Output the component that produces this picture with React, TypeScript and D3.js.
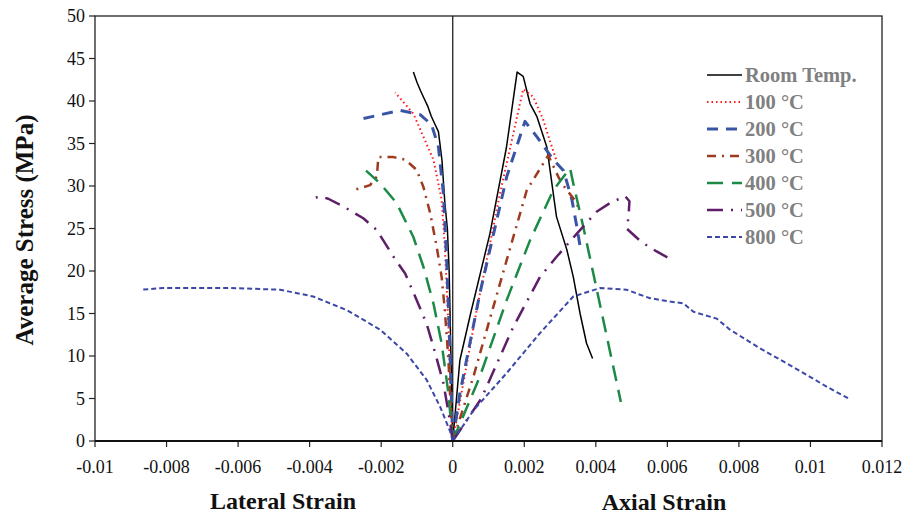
import React from "react";
import * as d3 from "d3";

type P = [number, number];

const xTicks = [-0.01, -0.008, -0.006, -0.004, -0.002, 0, 0.002, 0.004, 0.006, 0.008, 0.01, 0.012];
const yTicks = [0, 5, 10, 15, 20, 25, 30, 35, 40, 45, 50];

const seriesNames = ["Room Temp.", "100 °C", "200 °C", "300 °C", "400 °C", "500 °C", "800 °C"];

const roomLateral: P[] = [[0, 0], [-0.00005, 10], [-0.0001, 20], [-0.00015, 25], [-0.00022, 28], [-0.0003, 33], [-0.0004, 36.4], [-0.0005, 37.3], [-0.0006, 38.2], [-0.0007, 39.4], [-0.0008, 40.3], [-0.0009, 41.2], [-0.001, 42.2], [-0.0011, 43.4]];
const roomAxial: P[] = [[0, 0], [0.0002, 9.5], [0.0005, 15], [0.00104, 24.4], [0.0015, 34.5], [0.0018, 43.4], [0.00197, 42.9], [0.00216, 39.7], [0.00235, 38.2], [0.00263, 34.6], [0.00272, 31.9], [0.0029, 26.4], [0.00319, 22.5], [0.00337, 19.3], [0.00356, 15], [0.00374, 11.5], [0.00391, 9.7]];

const t100Lateral: P[] = [[0, 0], [-0.00006, 5.6], [-0.00012, 13.4], [-0.00022, 22.9], [-0.00031, 28.4], [-0.00054, 33.1], [-0.00082, 35.8], [-0.0011, 38.5], [-0.00161, 41]];
const t100Axial: P[] = [[0, 0], [0.00067, 15.4], [0.00132, 29.1], [0.00197, 41.4], [0.00225, 40.5], [0.00253, 37.8], [0.0027, 35.5], [0.0029, 33]];

const t200Lateral: P[] = [[0, 0], [-0.00004, 5.6], [-0.0001, 13.4], [-0.00017, 21.3], [-0.00026, 29.1], [-0.0004, 34.6], [-0.00059, 37.2], [-0.00091, 38.4], [-0.00147, 38.9], [-0.00254, 37.9]];
const t200Axial: P[] = [[0, 0], [0.0002, 5.6], [0.00076, 17.4], [0.00151, 31.1], [0.00202, 37.6], [0.00235, 35.8], [0.00281, 33.1], [0.0031, 31.8], [0.00333, 28.4], [0.00347, 25.2], [0.00356, 22.9]];

const t300Lateral: P[] = [[0, 0], [-0.00004, 2.4], [-0.00012, 9.5], [-0.00022, 15.4], [-0.00031, 19.3], [-0.00045, 22.9], [-0.00063, 26.8], [-0.00082, 29.9], [-0.00101, 31.9], [-0.00133, 33.1], [-0.00166, 33.4], [-0.00208, 33.4], [-0.00212, 31.1], [-0.00231, 30.1], [-0.00278, 29.5]];
const t300Axial: P[] = [[0, 0], [0.00058, 7.6], [0.00151, 21.3], [0.00207, 29.5], [0.00267, 33.6], [0.00295, 31.1], [0.00305, 30.3], [0.00347, 28], [0.00351, 27.4]];

const t400Lateral: P[] = [[0, 0], [-0.00012, 5.6], [-0.00031, 11.5], [-0.00054, 16.2], [-0.00082, 20.5], [-0.0011, 24], [-0.00157, 28], [-0.00203, 30.3], [-0.0025, 32.1]];
const t400Axial: P[] = [[0, 0], [0.00076, 7.6], [0.00151, 16.6], [0.00216, 23.6], [0.00281, 29.5], [0.00328, 32.1], [0.00337, 30.3], [0.00365, 25.2], [0.00393, 19.7], [0.00421, 14.2], [0.00449, 8.7], [0.0047, 4.6]];

const t500Lateral: P[] = [[0, 0], [-0.00008, 2.4], [-0.00026, 6.8], [-0.00054, 11.1], [-0.00073, 13.8], [-0.00101, 16.6], [-0.00133, 19.7], [-0.00166, 21.7], [-0.00212, 24.8], [-0.0025, 26.2], [-0.00306, 27.6], [-0.00348, 28.5], [-0.00371, 28.8], [-0.00399, 28.4]];
const t500Axial: P[] = [[0, 0], [0.0008, 5], [0.00169, 13.4], [0.00244, 19.3], [0.00291, 21.7], [0.00347, 24.4], [0.00403, 27], [0.0044, 28], [0.00482, 28.8], [0.00494, 28.2], [0.00491, 26.2], [0.00486, 25], [0.00528, 23.4], [0.0057, 22.3], [0.006, 21.6]];

const t800Lateral: P[] = [[0, 0], [-0.00008, 1.2], [-0.00035, 4], [-0.00073, 7.2], [-0.00129, 10.3], [-0.00203, 13.1], [-0.00296, 15.4], [-0.0039, 17], [-0.00483, 17.8], [-0.00623, 18], [-0.00809, 18], [-0.00869, 17.8]];
const t800Axial: P[] = [[0, 0], [0.00058, 3.6], [0.00151, 8], [0.00244, 12.7], [0.00337, 17], [0.00412, 18], [0.00486, 17.8], [0.00524, 17.2], [0.00552, 16.8], [0.00607, 16.4], [0.00645, 16.2], [0.00673, 15.2], [0.00738, 14.4], [0.00775, 13.1], [0.00859, 10.9], [0.00952, 8.7], [0.01045, 6.4], [0.01111, 4.9]];

const styles = [
  { color: "#000000", width: 1.5, dash: "" },
  { color: "#FF1A1A", width: 2, dash: "1.5,3" },
  { color: "#3A55A6", width: 3, dash: "11,8" },
  { color: "#9E3A1E", width: 2.5, dash: "9,6,2,6" },
  { color: "#1B8A47", width: 2.5, dash: "16,9" },
  { color: "#5E1F68", width: 2.5, dash: "16,8,2,8" },
  { color: "#3C48A8", width: 2, dash: "5,3" },
];

const seriesData: P[][][] = [
  [roomLateral, roomAxial],
  [t100Lateral, t100Axial],
  [t200Lateral, t200Axial],
  [t300Lateral, t300Axial],
  [t400Lateral, t400Axial],
  [t500Lateral, t500Axial],
  [t800Lateral, t800Axial],
];

const W = 907;
const H = 515;
const left = 95, right = 882, top = 16, bottom = 441;

export default function App() {
  const x = d3.scaleLinear().domain([-0.01, 0.012]).range([left, right]);
  const y = d3.scaleLinear().domain([0, 50]).range([bottom, top]);
  const line = d3.line<P>().x((d) => x(d[0])).y((d) => y(d[1]));
  const font = "'Liberation Serif', 'Times New Roman', serif";

  return (
    <svg width={W} height={H} style={{ position: "absolute", left: 0, top: 0, background: "#fff" }} fontFamily={font}>
      <rect x={0} y={0} width={W} height={H} fill="#fff" />
      <rect x={left} y={top} width={right - left} height={bottom - top} fill="none" stroke="#222" strokeWidth={1.3} />
      <line x1={x(0)} x2={x(0)} y1={top} y2={bottom} stroke="#222" strokeWidth={1.3} />
      {yTicks.map((t) => (
        <g key={"y" + t}>
          <line x1={left - 6} x2={left} y1={y(t)} y2={y(t)} stroke="#222" strokeWidth={1.2} />
          <text x={left - 10} y={y(t)} dy="0.35em" textAnchor="end" fontSize={18} fill="#111">{t}</text>
        </g>
      ))}
      {xTicks.map((t) => (
        <g key={"x" + t}>
          <line x1={x(t)} x2={x(t)} y1={bottom} y2={bottom + 6} stroke="#222" strokeWidth={1.2} />
          <text x={x(t)} y={467} dy="0.35em" textAnchor="middle" fontSize={18} fill="#111">{String(t)}</text>
        </g>
      ))}
      {seriesData.map((parts, i) =>
        parts.map((pts, j) => (
          <path key={`s${i}-${j}`} d={line(pts) || ""} fill="none" stroke={styles[i].color}
            strokeWidth={styles[i].width} strokeDasharray={styles[i].dash || undefined} strokeLinejoin="round" />
        ))
      )}
      <line x1={left} x2={right} y1={bottom} y2={bottom} stroke="#111" strokeWidth={2.2} />
      <text transform={`translate(24,230) rotate(-90)`} dy="0.35em" textAnchor="middle" fontSize={25} fontWeight="bold" fill="#111">Average Stress (MPa)</text>
      <text x={283} y={501} dy="0.35em" textAnchor="middle" fontSize={24} fontWeight="bold" fill="#111">Lateral Strain</text>
      <text x={664} y={502} dy="0.35em" textAnchor="middle" fontSize={24} fontWeight="bold" fill="#111">Axial Strain</text>
      {seriesNames.map((n, i) => {
        const ly = 75 + i * 27;
        return (
          <g key={"lg" + i}>
            <line x1={707} x2={742} y1={ly} y2={ly} stroke={styles[i].color} strokeWidth={styles[i].width}
              strokeDasharray={styles[i].dash || undefined} />
            <text x={745} y={ly} dy="0.35em" fontSize={20.5} fontWeight="bold" fill="#808080">{n}</text>
          </g>
        );
      })}
    </svg>
  );
}
